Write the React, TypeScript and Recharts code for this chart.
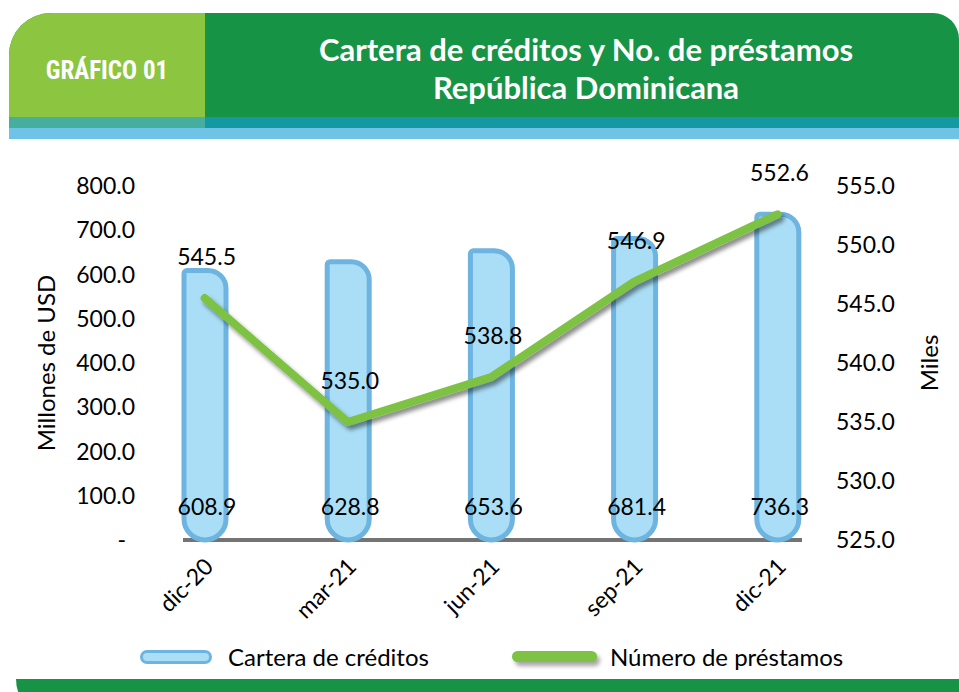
import React from "react";
import { Bar, ComposedChart, Label, LabelList, Line, XAxis, YAxis } from "recharts";

const periods = ["dic-20", "mar-21", "jun-21", "sep-21", "dic-21"];
const cartera = [608.9, 628.8, 653.6, 681.4, 736.3];
const prestamos = [545.5, 535.0, 538.8, 546.9, 552.6];
const leftTicks = [0, 100, 200, 300, 400, 500, 600, 700, 800];
const rightTicks = [525, 530, 535, 540, 545, 550, 555];

const data = periods.map((p, i) => ({ period: p, cartera: cartera[i], prestamos: prestamos[i] }));

const FONT = "Lato, 'Open Sans', sans-serif";
const BAR_FILL = "#A9DEF6";
const BAR_STROKE = "#6DB4E0";
const LINE_GREEN = "#7DC242";

function LeftTick({ x, y, payload }: any) {
  const v = Number(payload.value);
  return (
    <text x={v === 0 ? x - 5 : x + 4} y={y} dy="0.35em" textAnchor="end" fontFamily={FONT} fontSize={23} fill="#000">
      {v === 0 ? "-" : v.toFixed(1)}
    </text>
  );
}

function RightTick({ x, y, payload }: any) {
  return (
    <text x={x - 15} y={y} dy="0.35em" textAnchor="start" fontFamily={FONT} fontSize={23} fill="#000">
      {Number(payload.value).toFixed(1)}
    </text>
  );
}

function PeriodTick({ x, y, payload }: any) {
  return (
    <g transform={`translate(${x + 10},${y + 26})`}>
      <text textAnchor="end" transform="rotate(-45)" fontFamily={FONT} fontSize={23} fill="#000">
        {payload.value}
      </text>
    </g>
  );
}

function BarValue({ x, y, width, height, value }: any) {
  return (
    <text x={x + width / 2 + 2} y={y + height - 33} dy="0.35em" textAnchor="middle" fontFamily={FONT} fontSize={23} fill="#000">
      {Number(value).toFixed(1)}
    </text>
  );
}

function LineValue({ x, y, value }: any) {
  return (
    <text x={x + 2} y={y - 41} dy="0.35em" textAnchor="middle" fontFamily={FONT} fontSize={23} fill="#000">
      {Number(value).toFixed(1)}
    </text>
  );
}

const abs = (s: React.CSSProperties): React.CSSProperties => ({ position: "absolute", ...s });

export default function App() {
  return (
    <div style={abs({ left: 0, top: 0, width: 959, height: 692, overflow: "hidden", background: "#fff" })}>
      {/* header */}
      <div style={abs({ left: 9, top: 13, width: 950, height: 104, borderRadius: "42px 26px 0 0", overflow: "hidden", background: "#179346" })}>
        <div style={abs({ left: 0, top: 0, width: 196, height: 104, background: "#8CC540" })} />
      </div>
      <div style={abs({ left: 9, top: 117, width: 196, height: 11, background: "#45AE9E" })} />
      <div style={abs({ left: 205, top: 117, width: 754, height: 11, background: "#1698A2" })} />
      <div style={abs({ left: 9, top: 128, width: 950, height: 11, background: "#6EC3E7" })} />
      <div
        style={abs({
          left: 9, top: 56, width: 196, textAlign: "center", color: "#fff", fontSize: 25, fontWeight: 700,
          fontFamily: "'Liberation Sans Narrow', 'Roboto', sans-serif", fontStretch: "condensed",
        })}
      >
        GRÁFICO 01
      </div>
      <div
        style={abs({
          left: 205, top: 30, width: 762, textAlign: "center", color: "#fff", fontSize: 31, fontWeight: 700,
          fontFamily: FONT, lineHeight: "38px",
        })}
      >
        Cartera de créditos y No. de préstamos
        <br />
        República Dominicana
      </div>

      {/* category axis line */}
      <div style={abs({ left: 183, top: 538, width: 619, height: 4, background: "#747474" })} />

      <div style={abs({ left: 0, top: 0 })}>
        <ComposedChart width={959} height={692} data={data} margin={{ top: 186, right: 50, bottom: 72, left: 73 }}>
          <defs>
            <filter id="lineShadow" x="-10%" y="-10%" width="130%" height="140%">
              <feDropShadow dx="3" dy="4" stdDeviation="2" floodColor="#000" floodOpacity="0.45" />
            </filter>
          </defs>
          <XAxis
            dataKey="period"
            axisLine={false}
            tickLine={false}
            tickSize={0}
            interval={0}
            height={80}
            tick={<PeriodTick />}
          />
          <YAxis
            yAxisId="left"
            domain={[0, 800]}
            ticks={leftTicks}
            axisLine={false}
            tickLine={false}
            tickSize={0}
            width={60}
            tick={<LeftTick />}
          >
            <Label value="Millones de USD" angle={-90} position="center" dx={-57} fontFamily={FONT} fontSize={24} fill="#000" />
          </YAxis>
          <YAxis
            yAxisId="right"
            orientation="right"
            domain={[525, 555]}
            ticks={rightTicks}
            axisLine={false}
            tickLine={false}
            tickSize={0}
            width={60}
            tick={<RightTick />}
          >
            <Label value="Miles" angle={-90} position="center" dx={50} fontFamily={FONT} fontSize={24} fill="#000" />
          </YAxis>
          <Bar
            yAxisId="left"
            dataKey="cartera"
            barSize={42}
            fill={BAR_FILL}
            stroke={BAR_STROKE}
            strokeWidth={5}
            radius={[3, 18, 21, 21]}
            isAnimationActive={false}
          >
            <LabelList dataKey="cartera" content={<BarValue />} />
          </Bar>
          <Line
            yAxisId="right"
            dataKey="prestamos"
            stroke={LINE_GREEN}
            strokeWidth={8}
            strokeLinecap="round"
            strokeLinejoin="round"
            dot={false}
            activeDot={false}
            filter="url(#lineShadow)"
            isAnimationActive={false}
          >
            <LabelList dataKey="prestamos" content={<LineValue />} />
          </Line>
        </ComposedChart>
      </div>

      {/* legend */}
      <div style={abs({ left: 140, top: 650, width: 72, height: 14, boxSizing: "border-box", border: `3px solid ${BAR_STROKE}`, background: BAR_FILL, borderRadius: 7 })} />
      <div style={abs({ left: 228, top: 642, fontFamily: FONT, fontSize: 24, color: "#000", lineHeight: "30px" })}>Cartera de créditos</div>
      <div style={abs({ left: 512, top: 651, width: 85, height: 11, background: LINE_GREEN, borderRadius: 6, boxShadow: "3px 4px 4px rgba(0,0,0,0.35)" })} />
      <div style={abs({ left: 610, top: 642, fontFamily: FONT, fontSize: 24, color: "#000", lineHeight: "30px" })}>Número de préstamos</div>

      {/* bottom band */}
      <div style={abs({ left: 16, top: 679, width: 943, height: 40, background: "#179346", borderBottomLeftRadius: 40 })} />
    </div>
  );
}
